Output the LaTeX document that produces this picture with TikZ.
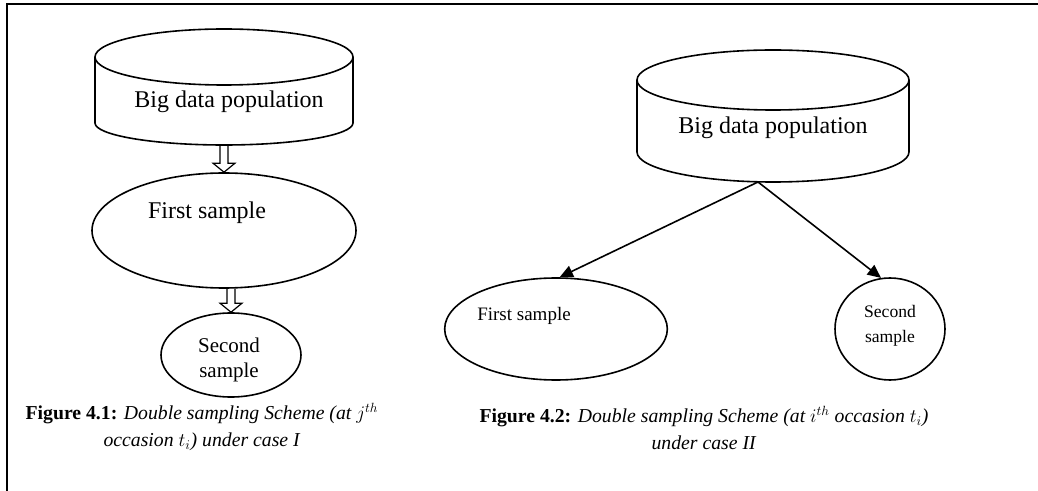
\documentclass[tikz,border=0pt]{standalone}
\usepackage{fontspec}
\setmainfont{Liberation Serif}
\usetikzlibrary{shapes.geometric,arrows.meta,calc}

\tikzset{every picture/.style={line width=1.2pt}}
\tikzset{
	sample/.style={draw, ellipse, inner sep=0pt},
	hollow arrow/.style={line width=0.9pt, line join=miter},
	split arrow/.style={-{Triangle[length=10pt,width=9pt]}},
	caption/.style={align=center, font=\fontsize{14.8}{20}\selectfont}}

\begin{document}
\begin{tikzpicture}[x=0.75pt,y=0.75pt,yscale=-1,xscale=1]
	\useasboundingbox (0,0) rectangle (1038,491);

	%Frame
	\draw [line width=1.5pt] (7,491) -- (7,4) -- (1038,4) ;

	%Shape: Can [left]
	\draw   (95,57) -- (95,123) arc [start angle=180, end angle=0, x radius=129, y radius=22] -- (353,57) ;
	\draw   (224,57) ellipse [x radius=129, y radius=28] ;
	\coordinate (popL-base) at (224,145) ;
	%Shape: Ellipse [left, first]
	\node [sample, minimum width=198pt, minimum height=86.25pt] (firstL) at (224,230.5) {} ;
	%Shape: Ellipse [left, second]
	\node [sample, minimum width=105pt, minimum height=63pt] (secondL) at (231,355) {} ;
	\coordinate (firstL-foot) at (secondL.north |- firstL.south) ;

	%Block Arrow [can to first sample]
	\draw [hollow arrow] ($(popL-base)+(-4,0)$) -- ($(firstL.north)+(-4,-9)$) -- ++(-7,0) -- (firstL.north) -- ++(11,-9) -- ++(-7,0) -- ($(popL-base)+(4,0)$) ;
	%Block Arrow [first to second sample]
	\draw [hollow arrow] ($(firstL-foot)+(-4,0)$) -- ($(secondL.north)+(-4,-9)$) -- ++(-7,0) -- (secondL.north) -- ++(11,-9) -- ++(-7,0) -- ($(firstL-foot)+(4,0)$) ;

	%Shape: Can [right]
	\draw   (637,80) -- (637,152) arc [start angle=180, end angle=0, x radius=136, y radius=30] -- (909,80) ;
	\draw   (773,80) ellipse [x radius=136, y radius=30] ;
	\coordinate (popR-base) at (758,182) ;
	%Shape: Ellipse [right, first]
	\node [sample, minimum width=167pt, minimum height=76.5pt] (firstR) at (556,329) {} ;
	%Shape: Ellipse [right, second]
	\node [sample, minimum width=82.5pt, minimum height=76.5pt] (secondR) at (890,329) {} ;

	%Straight Lines
	\draw [split arrow] (popR-base) -- (firstR.86) ;
	\draw [split arrow] (popR-base) -- (secondR.100) ;

	% Text Node
	\node [font=\fontsize{18}{21}\selectfont] (popL) at (229,102) {Big data population};
	% Text Node
	\node [font=\fontsize{18}{21}\selectfont] (firstL-txt) at (207,213) {First sample};
	% Text Node
	\node [align=center, font=\fontsize{15.75}{18.75}\selectfont] (secondL-txt) at (229,359.5) {Second\\sample};
	% Text Node
	\node [font=\fontsize{18}{21}\selectfont] (popR) at (773,128) {Big data population};
	% Text Node
	\node [font=\fontsize{14.25}{17}\selectfont] (firstR-txt) at (524,316) {First sample};
	% Text Node
	\node [align=center, font=\fontsize{13.2}{18.75}\selectfont] (secondR-txt) at (890,325.5) {Second\\sample};
	% Text Node
	\node [caption] (capL) at (202,427) {\textbf{Figure 4.1:} \textit{Double sampling Scheme (at $j^{th}$}\\ \textit{occasion $t_i$) under case I}};
	% Text Node
	\node [caption] (capR) at (704,428) {\textbf{Figure 4.2:} \textit{Double sampling Scheme (at $i^{th}$ occasion $t_i$)}\\ \textit{under case II}};

\end{tikzpicture}
\end{document}
